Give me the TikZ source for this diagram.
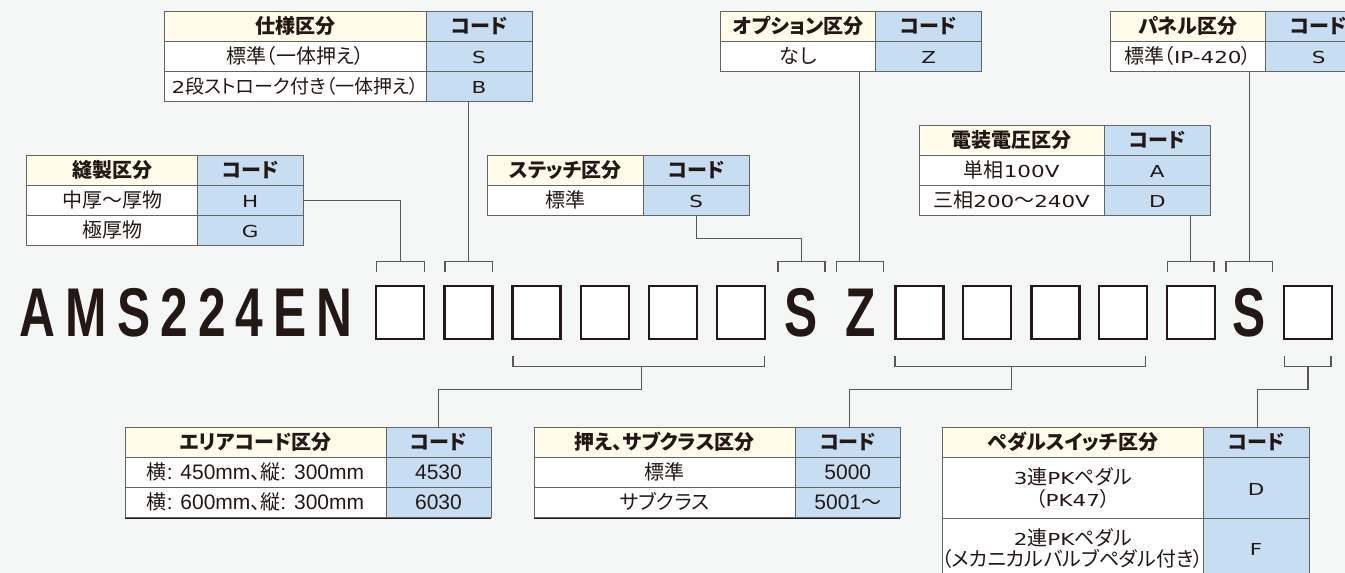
\documentclass[tikz,border=0pt]{standalone}
\usepackage{fontspec}
\usepackage{graphicx}
\usetikzlibrary{calc}
\newfontfamily\jp{Noto Sans CJK JP}[RawFeature=+palt]
\newfontfamily\wlatf{DejaVu Sans}
\newfontfamily\nlatf{Liberation Sans}
\newfontfamily\modelf{Liberation Sans}
\definecolor{bg}{RGB}{245,247,247}
\definecolor{cream}{RGB}{255,252,233}
\definecolor{codeblue}{RGB}{199,222,242}
\definecolor{linegray}{RGB}{100,100,100}
\definecolor{ink}{RGB}{35,24,21}
\definecolor{conngray}{RGB}{90,87,87}
\newcommand\wl[1]{\scalebox{1.3}[1]{\wlatf\fontsize{16.5}{19}\selectfont #1}}
\newcommand\latn[1]{{\nlatf\fontsize{21}{24}\selectfont #1}}
\newcommand\mdl[1]{\scalebox{0.72}[1]{\modelf\bfseries\fontsize{69}{70}\selectfont #1}}
\newcommand\tcell[8]{\node[#1,fill=#2,minimum width={#5-#3},minimum height={#6-#4}] (#7) at ({(#3+#5)/2},{(#4+#6)/2}) {#8};}
\newcommand\topbracket[3]{%
  \coordinate (#1) at (#2,261.7);
  \draw[conn] ($(#1)+(-#3,10.3)$) |- (#1) -| ($(#1)+(#3,10.3)$);}
\newcommand\botbracket[4]{%
  \coordinate (#1) at (#4,366.7);
  \draw[conn] (#2,356.3) |- (#1) -| (#3,356.3);}
\tikzset{
  cellbase/.style={draw=linegray, line width=0.9pt, inner sep=0pt, text=ink},
  cell/.style={cellbase, font=\jp\fontsize{20}{22}\selectfont, text height=16.5pt, text depth=2.5pt},
  hcell/.style={cellbase, font=\jp\bfseries\fontsize{20}{22}\selectfont, text height=16.5pt, text depth=2.5pt},
  bcell/.style={cellbase, font=\jp\fontsize{20}{22}\selectfont, text height=17pt, text depth=2.5pt},
  mcell/.style={cellbase, font=\jp\fontsize{20}{21.6}\selectfont, align=center},
  conn/.style={draw=conngray, line width=1.2pt},
  slot/.style={draw=ink, line width=2.4pt, fill=white, minimum width=48pt, minimum height=52.5pt, inner sep=0pt},
  modeltext/.style={inner sep=0pt, text=ink}
}
\begin{document}
\begin{tikzpicture}[x=1pt,y=-1pt]
\useasboundingbox (0,0) rectangle (1345,573);
\fill[bg] (0,0) rectangle (1345,573);
\clip (0,0) rectangle (1345,573);

% T1 仕様区分
\tcell{hcell}{cream}{164.6}{11.7}{426}{41.7}{t1ha}{仕様区分}
\tcell{hcell}{codeblue}{426}{11.7}{532}{41.7}{t1hb}{コード}
\tcell{cell}{white}{164.6}{41.7}{426}{71.7}{t1r1a}{標準（一体押え）}
\tcell{cell}{codeblue}{426}{41.7}{532}{71.7}{t1r1b}{\wl{S}}
\tcell{cell}{white}{164.6}{71.7}{426}{101.9}{t1r2a}{\fontsize{19}{21}\selectfont\wl{2}段ストローク付き（一体押え）}
\tcell{cell}{codeblue}{426}{71.7}{532}{101.9}{t1r2b}{\wl{B}}

% T2 縫製区分
\tcell{hcell}{cream}{26.9}{155.3}{197.3}{185.7}{t2ha}{縫製区分}
\tcell{hcell}{codeblue}{197.3}{155.3}{303}{185.7}{t2hb}{コード}
\tcell{cell}{white}{26.9}{185.7}{197.3}{215.7}{t2r1a}{中厚～厚物}
\tcell{cell}{codeblue}{197.3}{185.7}{303}{215.7}{t2r1b}{\wl{H}}
\tcell{cell}{white}{26.9}{215.7}{197.3}{245.9}{t2r2a}{極厚物}
\tcell{cell}{codeblue}{197.3}{215.7}{303}{245.9}{t2r2b}{\wl{G}}

% T3 ステッチ区分
\tcell{hcell}{cream}{487.7}{155.3}{643.3}{185.7}{t3ha}{ステッチ区分}
\tcell{hcell}{codeblue}{643.3}{155.3}{749}{185.7}{t3hb}{コード}
\tcell{cell}{white}{487.7}{185.7}{643.3}{215.7}{t3r1a}{標準}
\tcell{cell}{codeblue}{643.3}{185.7}{749}{215.7}{t3r1b}{\wl{S}}

% T4 オプション区分
\tcell{hcell}{cream}{720.7}{11.7}{875.7}{41.7}{t4ha}{オプション区分}
\tcell{hcell}{codeblue}{875.7}{11.7}{981.7}{41.7}{t4hb}{コード}
\tcell{cell}{white}{720.7}{41.7}{875.7}{71.7}{t4r1a}{なし}
\tcell{cell}{codeblue}{875.7}{41.7}{981.7}{71.7}{t4r1b}{\wl{Z}}

% T5 電装電圧区分
\tcell{hcell}{cream}{919}{125.7}{1104.3}{155.7}{t5ha}{電装電圧区分}
\tcell{hcell}{codeblue}{1104.3}{125.7}{1210.3}{155.7}{t5hb}{コード}
\tcell{cell}{white}{919}{155.7}{1104.3}{185.7}{t5r1a}{単相\wl{100V}}
\tcell{cell}{codeblue}{1104.3}{155.7}{1210.3}{185.7}{t5r1b}{\wl{A}}
\tcell{cell}{white}{919}{185.7}{1104.3}{215.7}{t5r2a}{三相\wl{200}～\wl{240V}}
\tcell{cell}{codeblue}{1104.3}{185.7}{1210.3}{215.7}{t5r2b}{\wl{D}}

% T6 パネル区分
\tcell{hcell}{cream}{1110}{11.7}{1265.7}{41.7}{t6ha}{パネル区分}
\tcell{hcell}{codeblue}{1265.7}{11.7}{1371.7}{41.7}{t6hb}{コード}
\tcell{cell}{white}{1110}{41.7}{1265.7}{71.7}{t6r1a}{標準（\wl{IP-420}）}
\tcell{cell}{codeblue}{1265.7}{41.7}{1371.7}{71.7}{t6r1b}{\wl{S}}

% T7 エリアコード区分
\tcell{hcell}{cream}{125}{427.7}{386}{457.7}{t7ha}{エリアコード区分}
\tcell{hcell}{codeblue}{386}{427.7}{491}{457.7}{t7hb}{コード}
\tcell{bcell}{white}{125}{457.7}{386}{487.7}{t7r1a}{横\latn{: 450mm}、縦\latn{: 300mm}}
\tcell{bcell}{codeblue}{386}{457.7}{491}{487.7}{t7r1b}{\latn{4530}}
\tcell{bcell}{white}{125}{487.7}{386}{517.7}{t7r2a}{横\latn{: 600mm}、縦\latn{: 300mm}}
\tcell{bcell}{codeblue}{386}{487.7}{491}{517.7}{t7r2b}{\latn{6030}}
\draw[ink, line width=1.2pt] (t7r2a.south west) -- (t7r2b.south east);

% T8 押え、サブクラス区分
\tcell{hcell}{cream}{534}{427.7}{795.6}{457.7}{t8ha}{押え、サブクラス区分}
\tcell{hcell}{codeblue}{795.6}{427.7}{900}{457.7}{t8hb}{コード}
\tcell{bcell}{white}{534}{457.7}{795.6}{487.7}{t8r1a}{標準}
\tcell{bcell}{codeblue}{795.6}{457.7}{900}{487.7}{t8r1b}{\latn{5000}}
\tcell{bcell}{white}{534}{487.7}{795.6}{517.7}{t8r2a}{サブクラス}
\tcell{bcell}{codeblue}{795.6}{487.7}{900}{517.7}{t8r2b}{\latn{5001}～}
\draw[ink, line width=1.2pt] (t8r2a.south west) -- (t8r2b.south east);

% T9 ペダルスイッチ区分
\tcell{hcell}{cream}{942.3}{427.7}{1203.3}{457.7}{t9ha}{ペダルスイッチ区分}
\tcell{hcell}{codeblue}{1203.3}{427.7}{1309}{457.7}{t9hb}{コード}
\tcell{mcell}{white}{942.3}{457.7}{1203.3}{518.3}{t9r1a}{\wl{3}連\wl{PK}ペダル\\（\wl{PK47}）}
\tcell{cell}{codeblue}{1203.3}{457.7}{1309}{518.3}{t9r1b}{\wl{D}}
\tcell{mcell}{white}{942.3}{518.3}{1203.3}{578.9}{t9r2a}{\wl{2}連\wl{PK}ペダル\\（メカニカルバルブペダル付き）}
\tcell{cell}{codeblue}{1203.3}{518.3}{1309}{578.9}{t9r2b}{\wl{F}}

% model string
\node[modeltext, anchor=base west] (model) at (19.5,336.5) {\mdl{A\kern14pt M\kern14pt S\kern14pt 2\kern14pt 2\kern14pt 4\kern14pt E\kern14pt N}};
\node[slot] (b0) at (400.2,312.5) {};
\node[slot] (b1) at (468.4,312.5) {};
\node[slot] (b2) at (536.6,312.5) {};
\node[slot] (b3) at (604.8,312.5) {};
\node[slot] (b4) at (673.0,312.5) {};
\node[slot] (b5) at (741.2,312.5) {};
\node[modeltext, anchor=base] (cs1) at (801.5,336.5) {\mdl{S}};
\node[modeltext, anchor=base] (cz) at (860.2,336.5) {\mdl{Z}};
\node[slot] (b6) at (919.4,312.5) {};
\node[slot] (b7) at (987.2,312.5) {};
\node[slot] (b8) at (1055.3,312.5) {};
\node[slot] (b9) at (1123.1,312.5) {};
\node[slot] (b10) at (1191.2,312.5) {};
\node[modeltext, anchor=base] (cs2) at (1249.2,336.5) {\mdl{S}};
\node[slot] (b11) at (1308,312.5) {};

% top brackets
\topbracket{k0}{400.3}{24}
\topbracket{k1}{468.5}{23.6}
\topbracket{kS}{801.5}{23.5}
\topbracket{kZ}{859.8}{23.6}
\topbracket{k10}{1190.8}{23.2}
\topbracket{kS2}{1249.2}{23.2}

% bottom brackets
\botbracket{kb1}{513}{764.5}{641.5}
\botbracket{kb2}{895}{1145.7}{1011.6}
\botbracket{kb3}{1284.3}{1331}{1308}

% connectors, top
\draw[conn] (t2r1b.east) -| (k0);
\draw[conn] (t1r2b.south -| k1) -- (k1);
\draw[conn] (t3r1b.south) |- ($(kS)+(0,-23.4)$) -- (kS);
\draw[conn] (t4r1a.south -| kZ) -- (kZ);
\draw[conn] (t5r2b.south -| k10) -- (k10);
\draw[conn] (t6r1a.south -| kS2) -- (kS2);

% connectors, bottom
\draw[conn] (kb1) -- ($(kb1)+(0,22.6)$) -| (t7hb.north);
\draw[conn] (kb2) -- ($(kb2)+(0,22.6)$) -| ([xshift=1.7pt]t8hb.north);
\draw[conn] (kb3) -- ($(kb3)+(0,22.6)$) -| ([xshift=1.7pt]t9hb.north);
\end{tikzpicture}
\end{document}
